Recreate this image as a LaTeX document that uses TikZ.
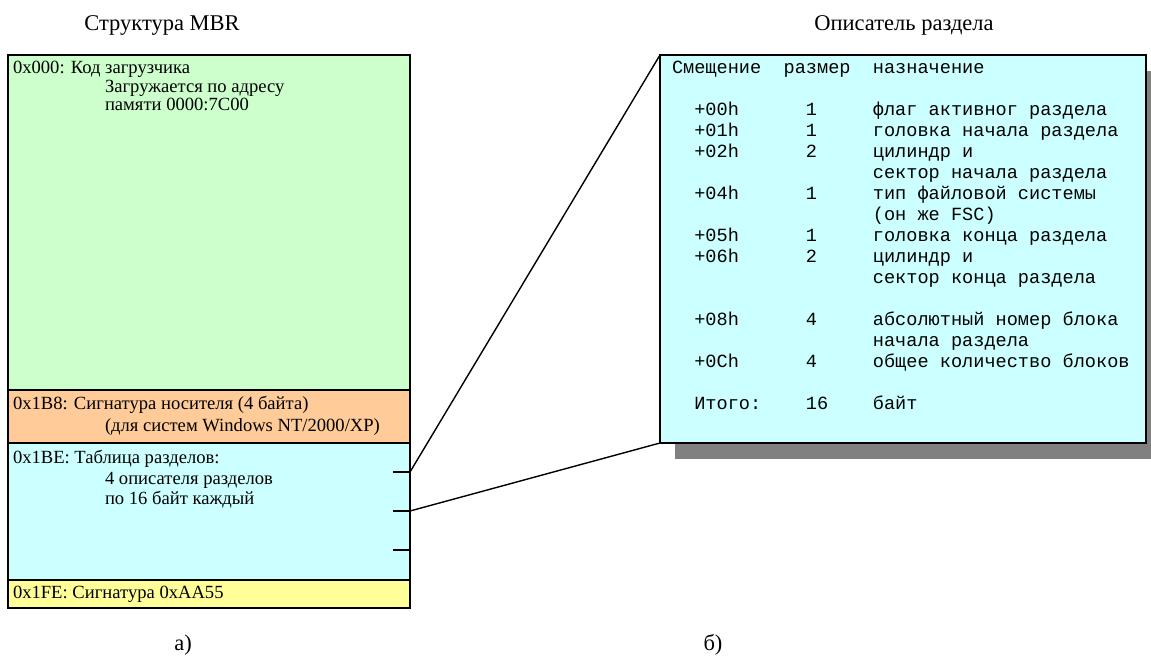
\documentclass[tikz,border=0pt]{standalone}
\usepackage{fontspec}
\setmainfont{Liberation Serif}
\setmonofont{Liberation Mono}
\usetikzlibrary{positioning}
\usetikzlibrary{shadows}

\definecolor{codegreen}{HTML}{CCFFCC}
\definecolor{diskorange}{HTML}{FFCC99}
\definecolor{tabcyan}{HTML}{CCFFFF}
\definecolor{sigyellow}{HTML}{FFFF99}
\definecolor{shadegray}{HTML}{808080}

\begin{document}
\begin{tikzpicture}
[x=1pt,y=-1pt,line width=1.4pt, sect node/.style={rectangle,draw,minimum
    width=402pt, inner sep=0pt, outer sep=0pt}, empt node/.style={inner
    sep=0pt,outer sep=0pt,anchor=base west,font=\fontsize{18.6}{19}\selectfont},
  mono node/.style={inner sep=0pt,outer sep=0pt,anchor=base
    west,font=\fontsize{18.6}{21}\ttfamily}, head node/.style={inner
    sep=0pt,outer sep=0pt,font=\fontsize{22.5}{26}\selectfont}]

    \useasboundingbox (0,0) rectangle (1151,660);

    \node [head node] (mbrt) at (162,25) {Структура MBR};
    \node [head node] (desct) at (904,25) {Описатель раздела};

    \node [sect node, fill=codegreen, minimum height=335pt, anchor=north west] (code) at (8,55) {};
    \node [sect node, fill=diskorange, minimum height=53pt] (disk) [below=0pt of code] {};
    \node [sect node, fill=tabcyan, minimum height=137pt] (tab) [below=0pt of disk] {};
    \node [sect node, fill=sigyellow, minimum height=28pt] (sig) [below=0pt of tab] {};

    \node [empt node] (code1) at (13,74) {0x000: Код загрузчика};
    \node [empt node] (code2) at (105,93) {Загружается по адресу};
    \node [empt node] (code3) at (105,111) {памяти 0000:7C00};
    \node [empt node] (disk1) at (13,409) {0x1B8: Сигнатура носителя (4 байта)};
    \node [empt node] (disk2) at (105,431) {(для систем Windows NT/2000/XP)};
    \node [empt node] (tab1) at (13,463) {0x1BE: Таблица разделов:};
    \node [empt node] (tab2) at (105,484) {4 описателя разделов};
    \node [empt node] (tab3) at (105,504) {по 16 байт каждый};
    \node [empt node] (sig1) at (13,598) {0x1FE: Сигнатура 0xAA55};

    % one tick per partition descriptor
    \foreach \i/\yy in {1/472,2/511,3/550}{
      \coordinate (t\i) at (410,\yy);
      \coordinate (k\i) at (393,\yy);
      \draw (k\i) -- (t\i);
    }

    \node [rectangle, draw, fill=tabcyan, minimum width=486pt, minimum
      height=388pt, inner sep=0pt, outer sep=0pt, anchor=north west,
      drop shadow={shadow xshift=15pt, shadow yshift=-16pt,
        fill=shadegray, opacity=1}] (descr) at (660,55) {};

    \draw (t1) -- (descr.north west);
    \draw (t2) -- (descr.south west);

    \node [mono node] (hoff) at (672,73.5) {Смещение};
    \node [mono node] (hsz) at (783.6,73.5) {размер};
    \node [mono node] (hdsc) at (872.9,73.5) {назначение};

    \foreach \k/\off/\sz/\txt in {2/+00h/1/флаг активног раздела,
      3/+01h/1/головка начала раздела, 4/+02h/2/цилиндр и,
      5///сектор начала раздела, 6/+04h/1/тип файловой системы,
      7///(он же FSC), 8/+05h/1/головка конца раздела,
      9/+06h/2/цилиндр и, 10///сектор конца раздела,
      12/+08h/4/абсолютный номер блока, 13///начала раздела,
      14/+0Ch/4/общее количество блоков, 16/Итого:/16/байт}{
      \node [mono node] (off\k) at (694.3,73.5+21*\k) {\off};
      \node [mono node] (sz\k) at (805.9,73.5+21*\k) {\sz};
      \node [mono node] (dsc\k) at (872.9,73.5+21*\k) {\txt};
    }

    \node [head node] (laba) at (183,645) {а)};
    \node [head node] (labb) at (713,645) {б)};
\end{tikzpicture}
\end{document}
